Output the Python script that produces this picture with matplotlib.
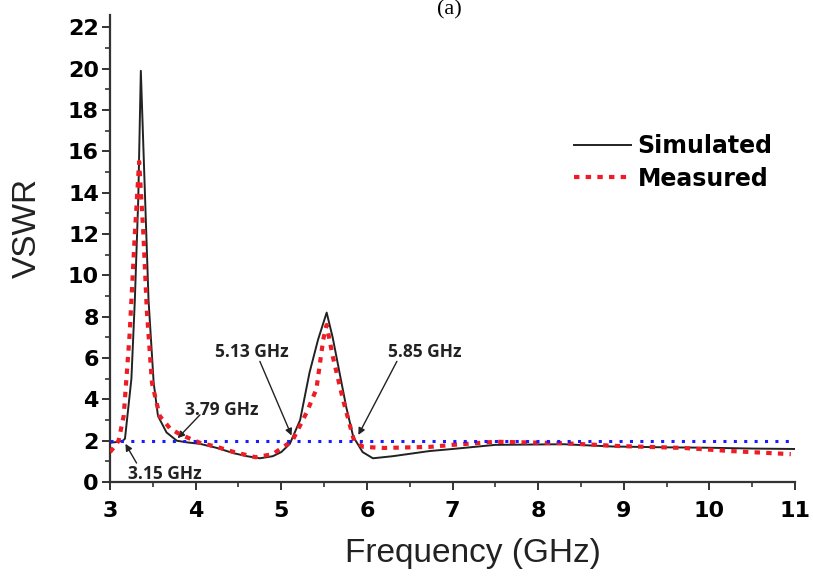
import numpy as np
import matplotlib.pyplot as plt
from matplotlib.ticker import MultipleLocator

# Simulated VSWR
sim_f = [3.00, 3.10, 3.15, 3.175, 3.25, 3.29, 3.33, 3.36, 3.41, 3.45, 3.51, 3.56,
         3.66, 3.78, 3.90, 4.05, 4.25, 4.44, 4.60, 4.75, 4.90, 5.00, 5.10, 5.22,
         5.33, 5.43, 5.53, 5.60, 5.68, 5.76, 5.84, 5.95, 6.07, 6.30, 6.73, 7.00,
         7.50, 8.30, 8.87, 9.50, 10.00, 10.50, 11.00]
sim_v = [1.90, 1.95, 2.00, 2.10, 5.00, 8.80, 13.7, 19.9, 13.7, 8.80, 4.80, 3.20,
         2.40, 2.00, 1.92, 1.85, 1.65, 1.40, 1.25, 1.15, 1.25, 1.45, 1.85, 3.00,
         5.30, 6.90, 8.20, 7.00, 5.30, 3.60, 2.20, 1.45, 1.15, 1.25, 1.50, 1.60,
         1.80, 1.83, 1.72, 1.68, 1.66, 1.62, 1.60]

# Measured VSWR
meas_f = [3.00, 3.05, 3.10, 3.16, 3.23, 3.29, 3.34, 3.39, 3.43, 3.49, 3.58,
          3.70, 3.82, 4.05, 4.25, 4.45, 4.70, 4.90, 5.13, 5.30, 5.41, 5.49,
          5.53, 5.60, 5.72, 5.85, 5.96, 6.20, 6.73, 7.00, 7.50, 8.30, 8.90,
          9.70, 10.25, 10.95]
meas_v = [1.45, 1.70, 2.00, 3.20, 7.20, 12.0, 15.5, 12.0, 8.30, 4.80, 3.20,
          2.60, 2.30, 1.90, 1.70, 1.45, 1.20, 1.35, 2.00, 3.40, 4.50, 6.90,
          7.60, 6.10, 4.00, 2.00, 1.70, 1.65, 1.70, 1.80, 1.95, 1.88, 1.75,
          1.65, 1.50, 1.35]

ref_level = 2.0

# annotation labels: (text, text position, arrow tail, arrow tip)
notes = [
    ('3.15 GHz', (3.64, 0.40), (3.31, 0.92), (3.18, 1.85)),
    ('3.79 GHz', (4.30, 3.50), (4.05, 3.25), (3.79, 2.12)),
    ('5.13 GHz', (4.66, 6.30), (4.75, 5.84), (5.12, 2.25)),
    ('5.85 GHz', (6.68, 6.30), (6.35, 5.84), (5.90, 2.28)),
]

fig = plt.figure(figsize=(8.13, 5.78), dpi=100)
ax = fig.add_axes([0.1353, 0.166, 0.8427, 0.808])

ax.plot(sim_f, sim_v, color='#222222', lw=1.4, label='Simulated', zorder=3)
ax.plot(meas_f, meas_v, color='#ee1c25', lw=3, linestyle=(0, (1.3, 1.5)),
        label='Measured', zorder=4)
ax.axhline(ref_level, color='#1a1aff', lw=2.2, linestyle=(0, (1, 2.4)), zorder=5)

for txt, tpos, tail, tip in notes:
    ax.text(tpos[0], tpos[1], txt, ha='center', va='center', fontsize=12.5,
            family='Open Sans', fontweight='bold', color='#222222')
    ax.annotate('', xy=tip, xytext=tail,
                arrowprops=dict(arrowstyle='-|>', color='#222222', lw=1.0,
                                mutation_scale=10, shrinkA=0, shrinkB=0))

ax.set_xlim(3, 11)
ax.set_ylim(0, 22.6)
ax.xaxis.set_major_locator(MultipleLocator(1))
ax.xaxis.set_minor_locator(MultipleLocator(0.5))
ax.yaxis.set_major_locator(MultipleLocator(2))
ax.yaxis.set_minor_locator(MultipleLocator(1))

for side in ['top', 'right']:
    ax.spines[side].set_visible(False)
for side in ['left', 'bottom']:
    ax.spines[side].set_linewidth(1.6)
    ax.spines[side].set_color('#333333')

ax.tick_params(which='major', direction='out', length=6, width=1.4, color='#333333', pad=2)
ax.tick_params(which='minor', direction='out', length=3.5, width=1.2, color='#333333')
ax.tick_params(axis='x', which='major', pad=8)
for lab in ax.get_xticklabels() + ax.get_yticklabels():
    lab.set_fontweight('bold')
    lab.set_fontsize(16)
    lab.set_family('DejaVu Sans')

ax.set_xlabel('Frequency (GHz)', fontsize=24, family='Liberation Sans', color='#222222')
ax.set_ylabel('VSWR', fontsize=24, family='Liberation Sans', color='#222222')
ax.xaxis.set_label_coords(0.53, -0.12)
ax.yaxis.set_label_coords(-0.098, 0.544)

leg = ax.legend(loc='upper left', bbox_to_anchor=(0.66, 0.77), frameon=False,
                prop={'family': 'DejaVu Sans', 'weight': 'bold', 'size': 17},
                handlelength=2.4, handletextpad=0.3, labelspacing=0.35,
                borderpad=0)

fig.text(0.553, 1.0, '(a)', ha='center', va='top', fontsize=16,
         family='Liberation Serif')

fig.savefig('out.png', dpi=100)
